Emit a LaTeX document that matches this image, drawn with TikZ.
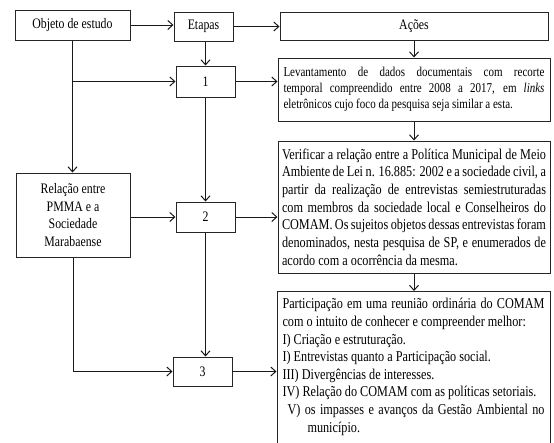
\documentclass[tikz,border=0pt]{standalone}
\usepackage{fontspec}
\setmainfont{Liberation Serif}[FakeStretch=0.815]
\usetikzlibrary{arrows.meta}
\newcommand{\jl}[1]{\makebox[\linewidth][s]{#1}}
\begin{document}
\begin{tikzpicture}[x=1pt,y=-1pt,
  box/.style={draw=black!85, line width=1pt, inner sep=0pt, align=center, font=\fontsize{14.5}{17.5}\selectfont},
  arr/.style={draw=black!90, line width=1pt, -{Straight Barb[length=5pt,width=9pt]}}]
\useasboundingbox (0,0) rectangle (554,442);
\clip (0,0) rectangle (554,442);
\node[box, minimum width=115, minimum height=30] (obj) at (72.5,25) {Objeto de estudo};
\node[box, minimum width=59, minimum height=29] (etapas) at (203.5,26.5) {Etapas};
\node[box, minimum width=268, minimum height=28] (acoes) at (414,26) {Ações};
\node[box, minimum width=59, minimum height=31] (n1) at (205.5,81.5) {1};
\node[box, minimum width=272, minimum height=63] (L1) at (414,89.5) {\parbox{261pt}{\fontsize{13.5}{15.8}\selectfont
\jl{Levantamento de dados documentais com recorte}\\
\jl{temporal compreendido entre 2008 a 2017, em \textit{links}}\\
eletrônicos cujo foco da pesquisa seja similar a esta.}};
\node[box, minimum width=114, minimum height=84] (rel) at (73,215) {Relação entre\\PMMA e a\\Sociedade\\Marabaense};
\node[box, minimum width=59, minimum height=30] (n2) at (205.5,217) {2};
\node[box, minimum width=272, minimum height=132] (L2) at (414,207) {\parbox{264pt}{\fontsize{15}{17.7}\selectfont
\jl{Verificar a relação entre a Política Municipal de Meio}\\
\jl{Ambiente de Lei n. 16.885: 2002 e a sociedade civil, a}\\
\jl{partir da realização de entrevistas semiestruturadas}\\
\jl{com membros da sociedade local e Conselheiros do}\\
\jl{COMAM. Os sujeitos objetos dessas entrevistas foram}\\
\jl{denominados, nesta pesquisa de SP, e enumerados de}\\
acordo com a ocorrência da mesma.}};
\node[box, minimum width=59, minimum height=29] (n3) at (202.5,371.5) {3};
\node[box, anchor=north, minimum width=273, inner ysep=7pt] (L3) at (413.5,291) {\parbox[t][165pt][t]{262pt}{\fontsize{15}{17.6}\selectfont
\jl{Participação em uma reunião ordinária do COMAM}\\
com o intuito de conhecer e compreender melhor:\\
I) Criação e estruturação.\\
I) Entrevistas quanto a Participação social.\\
III) Divergências de interesses.\\
IV) Relação do COMAM com as políticas setoriais.\\
\hspace*{5pt}\makebox[257pt][s]{V) os impasses e avanços da Gestão Ambiental no}\\
\hspace*{25pt}município.}};
\draw[arr] (obj.east) -- (etapas.west |- obj.east);
\draw[arr] (etapas.east) -- (acoes.west |- etapas.east);
\draw[arr] (etapas.south -| n1.north) -- (n1.north);
\draw[arr] (acoes.south) -- (L1.north);
\draw[arr] (obj.south) -- (obj.south |- rel.north);
\coordinate (b1) at (obj.south |- n1.west);
\draw[arr] (b1) -- (n1.west);
\draw[arr] (n1.east) -- (n1.east -| L1.west);
\draw[arr] (n1.south) -- (n2.north);
\draw[arr] (L1.south) -- (L2.north);
\draw[arr] (rel.east |- n2.west) -- (n2.west);
\draw[arr] (n2.east) -- (n2.east -| L2.west);
\draw[arr] (n2.south) -- (n2.south |- n3.north);
\draw[arr] (L2.south) -- (L2.south |- L3.north);
\draw[arr] (rel.south) |- (n3.west);
\draw[arr] (n3.east) -- (n3.east -| L3.west);
\end{tikzpicture}
\end{document}
